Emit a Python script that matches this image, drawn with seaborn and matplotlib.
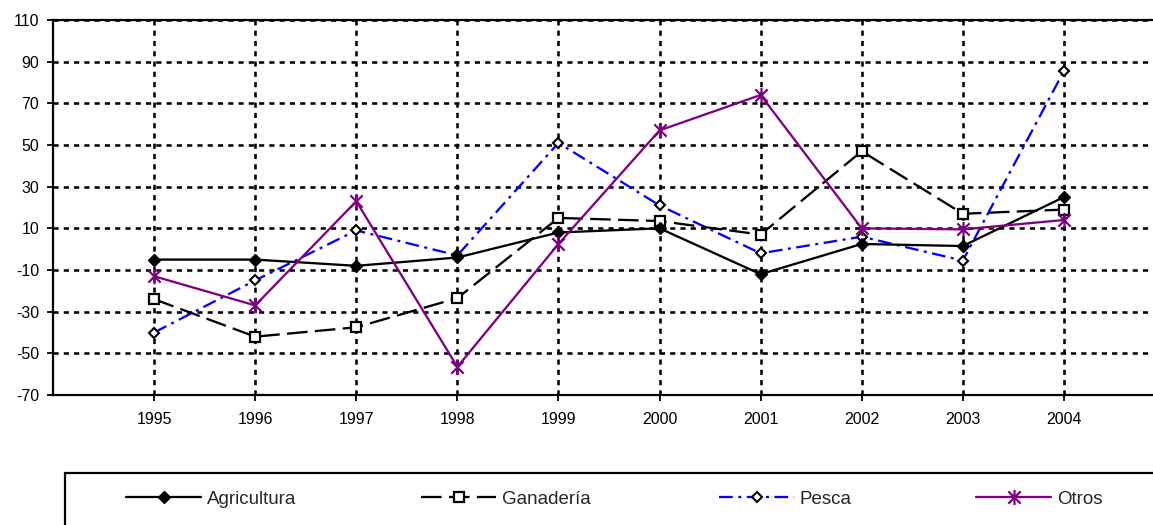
import numpy as np
import pandas as pd
import matplotlib
matplotlib.use("Agg")
import matplotlib.pyplot as plt
from matplotlib.path import Path
from matplotlib.patches import Rectangle
import seaborn as sns

# Annual variation by sector (%)
years = ["1995", "1996", "1997", "1998", "1999", "2000", "2001", "2002", "2003", "2004"]
agricultura = [-5, -5, -8, -4, 8, 10, -12, 2.5, 1.5, 25]
ganaderia = [-24, -42, -37.5, -23.5, 15, 13.5, 7, 47, 17, 19]
pesca = [-40, -15, 9, -3, 51, 21, -2, 6, -5.5, 85.5]
otros = [-13, -27, 23, -56.5, 2.5, 57, 74, 10, 9.5, 14]

series_names = ["Agricultura", "Ganadería", "Pesca", "Otros"]
y_ticks = [-70, -50, -30, -10, 10, 30, 50, 70, 90, 110]

sns.set_theme(style="white")
plt.rcParams["font.family"] = ["Liberation Sans", "DejaVu Sans"]

W, H = 1153, 525
fig = plt.figure(figsize=(W / 100, H / 100), dpi=100)
# plot area: left edge 53px, bottom 395px, top 20px; one category slot on each side
ax = fig.add_axes([53 / W, (H - 395) / H, (1165 - 53) / W, (395 - 20) / H])

df = pd.DataFrame({
    "idx": np.arange(len(years)),
    "Agricultura": agricultura,
    "Ganadería": ganaderia,
    "Pesca": pesca,
    "Otros": otros,
})

# Excel-style asterisk: an X crossed by a vertical bar
ast = Path(
    [(-0.5, -0.5), (0.5, 0.5), (-0.5, 0.5), (0.5, -0.5), (0, -0.62), (0, 0.62)],
    [Path.MOVETO, Path.LINETO, Path.MOVETO, Path.LINETO, Path.MOVETO, Path.LINETO],
)

styles = {
    "Pesca": dict(color="#0000ff", linestyle=(0, (6.0, 2.4, 1.3, 2.4)), marker="D",
                  markersize=5.5, markerfacecolor="white", markeredgecolor="black",
                  markeredgewidth=1.5, zorder=3),
    "Ganadería": dict(color="black", linestyle=(0, (9.0, 3.2)), marker="s",
                      markersize=7.5, markerfacecolor="white", markeredgecolor="black",
                      markeredgewidth=1.6, zorder=4),
    "Agricultura": dict(color="black", linestyle="-", marker="D", markersize=6.5,
                        markerfacecolor="black", markeredgecolor="black",
                        markeredgewidth=1, zorder=5),
    "Otros": dict(color="#800080", linestyle="-", marker=ast, markersize=11,
                  markerfacecolor="none", markeredgecolor="#800080",
                  markeredgewidth=1.6, zorder=6),
}

handles = {}
for name in ["Pesca", "Ganadería", "Agricultura", "Otros"]:
    sns.lineplot(data=df, x="idx", y=name, ax=ax, linewidth=1.65, **styles[name])
    handles[name] = ax.lines[-1]

ax.set_xlim(-1, len(years))
ax.set_ylim(-70, 110)
ax.set_yticks(y_ticks)
ax.set_yticklabels([str(v) for v in y_ticks])
ax.set_xticks(np.arange(len(years)))
ax.set_xticklabels(years)
ax.set_xlabel("")
ax.set_ylabel("")

ax.grid(True, color="black", linestyle=(0, (2.0, 2.0)), linewidth=1.85)
ax.set_axisbelow(True)
for sp in ax.spines.values():
    sp.set_color("black")
    sp.set_linewidth(1.6)
ax.tick_params(axis="y", direction="out", length=4, width=1.3, pad=6, labelsize=11.5,
               colors="black", left=True)
ax.tick_params(axis="x", direction="out", length=4, width=1.3, pad=8, labelsize=11.5,
               colors="black", bottom=True)

# legend frame running off the lower right edge
box_top = 1 - 473 / H
fig.add_artist(Rectangle((65 / W, -0.2), 1.2, box_top + 0.2,
                         transform=fig.transFigure, fill=False, edgecolor="black",
                         linewidth=1.6))

legend_x = {"Agricultura": 126, "Ganadería": 421, "Pesca": 719, "Otros": 976}
for name in series_names:
    fig.legend([handles[name]], [name], loc="center left",
               bbox_to_anchor=(legend_x[name] / W, 1 - 499 / H),
               frameon=False, fontsize=13.5, handlelength=4.0, handletextpad=0.3,
               borderpad=0, borderaxespad=0)

fig.savefig("out.png", dpi=100)
